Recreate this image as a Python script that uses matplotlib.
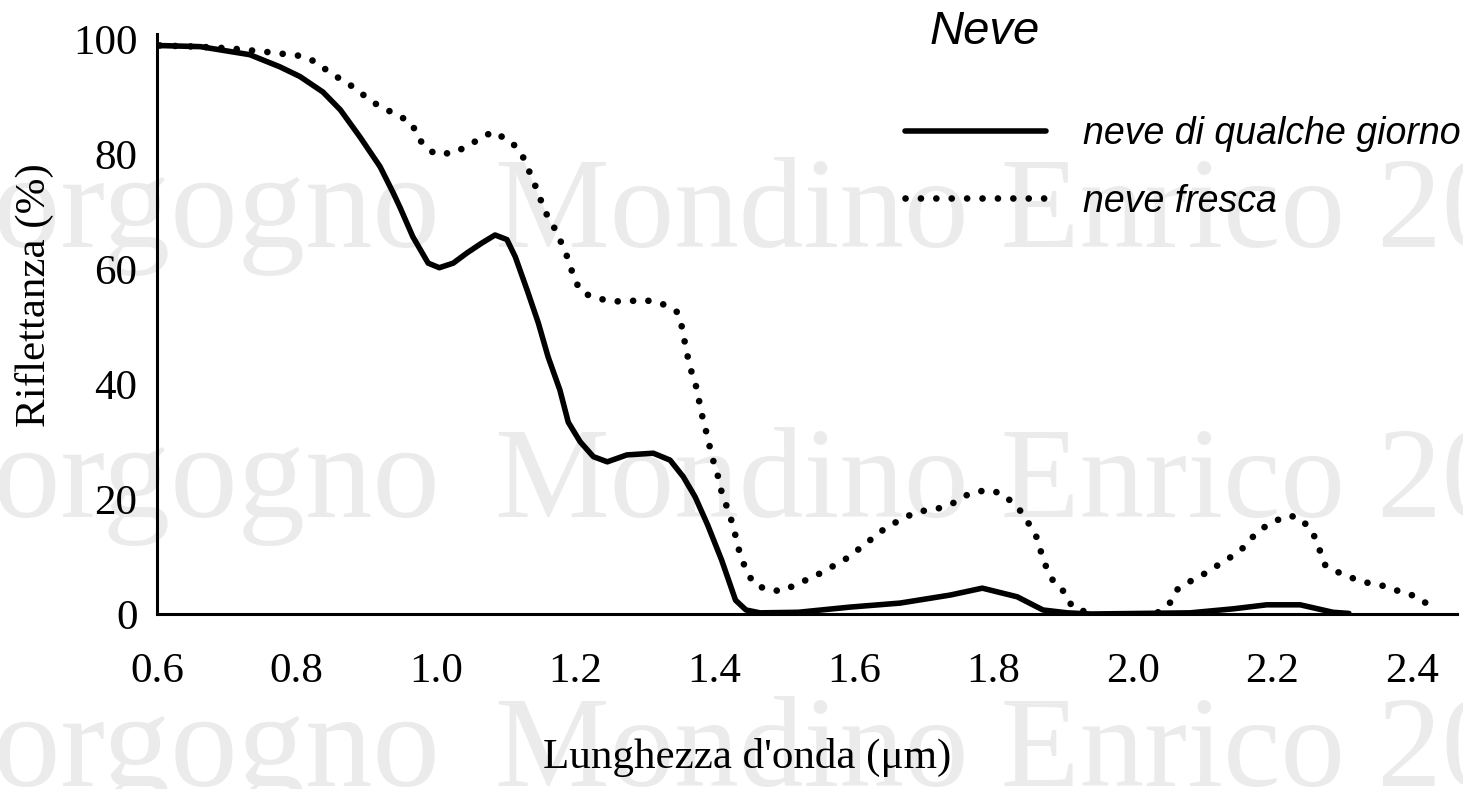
import numpy as np
import matplotlib
matplotlib.use("Agg")
import matplotlib.pyplot as plt

# dati: lunghezza d'onda (um) e riflettanza (%)
x_vecchia = [0.60, 0.662, 0.733, 0.776, 0.805, 0.838, 0.863, 0.891, 0.92, 0.939, 0.949, 0.967,
             0.989, 1.005, 1.025, 1.045, 1.066, 1.085, 1.102, 1.114, 1.131, 1.147, 1.161, 1.178,
             1.19, 1.207, 1.226, 1.246, 1.274, 1.312, 1.336, 1.355, 1.372, 1.39, 1.41, 1.43,
             1.445, 1.465, 1.52, 1.594, 1.666, 1.738, 1.784, 1.834, 1.871, 1.906, 1.94, 2.082,
             2.144, 2.192, 2.24, 2.287, 2.31]
y_vecchia = [99.0, 98.8, 97.4, 95.3, 93.6, 90.9, 87.8, 83.1, 77.9, 73.3, 70.7, 65.7,
             61.1, 60.3, 61.1, 62.9, 64.6, 66.0, 65.2, 62.2, 56.4, 50.7, 44.8, 39.0,
             33.4, 30.0, 27.4, 26.5, 27.7, 28.0, 26.8, 23.9, 20.4, 15.5, 9.4, 2.4,
             0.7, 0.2, 0.3, 1.2, 1.9, 3.3, 4.5, 3.0, 0.7, 0.2, 0.0, 0.2,
             0.9, 1.6, 1.6, 0.3, 0.1]

x_fresca = [0.604, 0.657, 0.705, 0.755, 0.805, 0.827, 0.851, 0.873, 0.896, 0.92, 0.944, 0.966,
            0.974, 0.985, 0.999, 1.028, 1.049, 1.063, 1.081, 1.109, 1.125, 1.135, 1.145, 1.157,
            1.167, 1.178, 1.187, 1.198, 1.207, 1.224, 1.25, 1.271, 1.297, 1.322, 1.346, 1.353,
            1.36, 1.366, 1.375, 1.38, 1.386, 1.392, 1.398, 1.405, 1.411, 1.421, 1.428, 1.434,
            1.441, 1.455, 1.475, 1.497, 1.518, 1.544, 1.568, 1.591, 1.611, 1.64, 1.663, 1.69,
            1.719, 1.742, 1.766, 1.791, 1.812, 1.835, 1.853, 1.864, 1.871, 1.887, 1.903, 1.913,
            1.934, 1.98, 2.036, 2.053, 2.063, 2.081, 2.104, 2.122, 2.139, 2.158, 2.18, 2.201,
            2.221, 2.237, 2.251, 2.261, 2.269, 2.276, 2.294, 2.314, 2.33, 2.359, 2.386, 2.408,
            2.426]
y_fresca = [99.0, 98.8, 98.5, 97.9, 97.2, 96.2, 94.0, 92.5, 90.4, 88.3, 87.0, 85.4,
            83.0, 81.4, 80.1, 80.3, 81.9, 82.6, 84.0, 82.2, 79.6, 76.8, 73.9, 70.0,
            68.0, 65.2, 62.7, 58.7, 56.3, 55.2, 54.5, 54.4, 54.7, 54.2, 52.6, 50.0,
            45.5, 42.5, 39.0, 35.5, 32.7, 29.6, 26.7, 23.9, 20.7, 17.6, 14.6, 11.5,
            8.9, 5.4, 4.2, 4.0, 5.2, 6.6, 8.2, 9.8, 11.7, 14.5, 16.2, 17.8,
            18.3, 19.3, 21.0, 21.6, 21.0, 18.6, 15.3, 12.9, 9.4, 5.4, 3.7, 1.2,
            0.3, np.nan, 0.3, 1.9, 4.2, 5.6, 7.1, 8.5, 9.8, 11.5, 14.5, 16.0,
            17.1, 16.9, 15.3, 13.4, 10.8, 8.5, 7.3, 6.3, 5.6, 4.9, 3.8, 3.0,
            1.4]

xticks = [0.6, 0.8, 1.0, 1.2, 1.4, 1.6, 1.8, 2.0, 2.2, 2.4]
yticks = [0, 20, 40, 60, 80, 100]

W, H = 1463, 789
fig = plt.figure(figsize=(W / 100, H / 100), dpi=100)
ax = fig.add_axes([157 / W, (H - 614) / H, 1300 / W, 580 / H])
ax.set_facecolor("none")

# filigrana in grigio chiaro dietro il grafico
wm = dict(family="Liberation Serif", color="#ebebeb", zorder=-5, va="baseline")
for base in [247, 517, 786]:
    fig.text(440 / W, (H - base) / H, "Borgogno", ha="right", fontsize=97, **wm)
    fig.text(495 / W, (H - base) / H, "Mondino Enrico 2009", ha="left", fontsize=93, **wm)

ax.plot(x_vecchia, y_vecchia, color="black", lw=4.0, solid_joinstyle="round",
        solid_capstyle="round", label="neve di qualche giorno")
ax.plot(x_fresca, y_fresca, color="black", lw=4.8, linestyle=(0, (0.01, 2.3)),
        dash_capstyle="round", label="neve fresca")

ax.set_xlim(0.6, 2.465)
ax.set_ylim(0, 101)
ax.set_xticks(xticks)
ax.set_xticklabels([f"{v:.1f}" for v in xticks])
ax.set_yticks(yticks)
ax.set_yticklabels([str(v) for v in yticks])
for s in ["top", "right"]:
    ax.spines[s].set_visible(False)
for s in ["left", "bottom"]:
    ax.spines[s].set_linewidth(2.2)
ax.tick_params(axis="x", length=0, pad=28, labelsize=31)
ax.tick_params(axis="y", length=0, pad=14, labelsize=31)
for lab in ax.get_xticklabels() + ax.get_yticklabels():
    lab.set_family("Liberation Serif")

ax.set_xlabel("Lunghezza d'onda (μm)", family="Liberation Serif", fontsize=31, va="center")
ax.set_ylabel("Riflettanza (%)", family="Liberation Serif", fontsize=31, va="center")
ax.xaxis.set_label_coords(0.454, -0.248)
ax.yaxis.set_label_coords(-0.094, 0.55)

fig.text(930 / W, (H - 32) / H, "Neve", family="Liberation Sans", style="italic",
         fontsize=34, va="center", ha="left")
leg = ax.legend(loc="upper left", bbox_to_anchor=(905 / W, (H - 116) / H),
                bbox_transform=fig.transFigure, frameon=False, borderpad=0,
                borderaxespad=0, handlelength=3.75, handletextpad=1.0, labelspacing=0.84,
                prop={"family": "Liberation Sans", "style": "italic", "size": 27})

fig.savefig("out.png", dpi=100)
